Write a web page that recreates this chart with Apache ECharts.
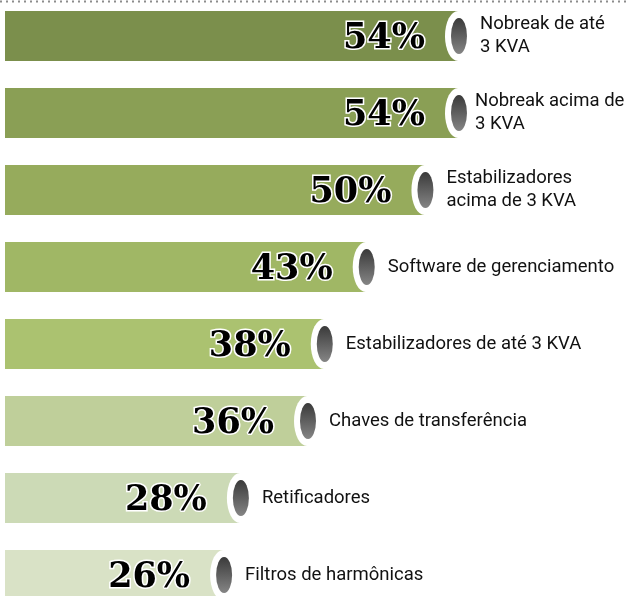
<!DOCTYPE html>
<html>
<head>
<meta charset="utf-8">
<script src="https://cdn.jsdelivr.net/npm/echarts@6/dist/echarts.min.js"></script>
<style>
  html, body { margin: 0; padding: 0; background: #fff; }
  #main { width: 627px; height: 596px; }
</style>
</head>
<body>
<div id="main"></div>
<script>
const categories = [
  "Nobreak de até\n3 KVA",
  "Nobreak acima de\n3 KVA",
  "Estabilizadores\nacima de 3 KVA",
  "Software de gerenciamento",
  "Estabilizadores de até 3 KVA",
  "Chaves de transferência",
  "Retificadores",
  "Filtros de harmônicas",
];
const values = [54, 54, 50, 43, 38, 36, 28, 26];
const barColors = [
  "#7b8f4c", "#8a9f55", "#96ab5c", "#a0b765",
  "#abc270", "#bfcf9a", "#ccdab6", "#d9e2c6",
];

const chart = echarts.init(document.getElementById("main"));

// the long second label sits a bit closer to its cap, as in the print
const capData = values.map((v, i) =>
  i === 1 ? { value: [v, i], label: { distance: 4 } } : [v, i]
);

const option = {
  animation: false,
  grid: { left: 5, top: -2.5, width: 587.2, height: 616, outerBoundsMode: "none" },
  xAxis: {
    type: "value",
    min: 0,
    max: 70,
    show: false,
  },
  yAxis: {
    type: "category",
    data: categories,
    inverse: true,
    show: false,
  },
  graphic: [
    {
      type: "line",
      shape: { x1: 0, y1: 1.5, x2: 627, y2: 1.5 },
      style: { stroke: "#8c8c8c", lineWidth: 2, lineDash: [2, 4] },
      z: 10,
    },
  ],
  series: [
    {
      type: "bar",
      barWidth: 50,
      data: values.map((v, i) => ({ value: v, itemStyle: { color: barColors[i] } })),
      label: {
        show: true,
        position: "insideRight",
        distance: 33,
        offset: [0, 3],
        formatter: "{c}%",
        fontFamily: "DejaVu Serif",
        fontWeight: "bold",
        fontSize: 35,
        color: "#000",
        textBorderColor: "#fff",
        textBorderWidth: 3,
      },
      z: 2,
    },
    {
      // white tube opening at the bar end
      type: "scatter",
      data: capData,
      symbol: "circle",
      symbolSize: [26, 50],
      itemStyle: { color: "#fff", opacity: 1 },
      label: {
        show: true,
        position: "right",
        distance: 9,
        formatter: (p) => categories[p.dataIndex],
        fontFamily: "Roboto",
        fontSize: 18.5,
        lineHeight: 23,
        color: "#111",
      },
      z: 3,
    },
    {
      // dark inner ellipse
      type: "scatter",
      data: capData.map((d) => (Array.isArray(d) ? d : d.value)),
      symbol: "circle",
      symbolSize: [16, 36],
      symbolOffset: [1, 0],
      itemStyle: {
        opacity: 1,
        color: new echarts.graphic.LinearGradient(0, 0, 0, 1, [
          { offset: 0, color: "#3a3a3a" },
          { offset: 1, color: "#858585" },
        ]),
      },
      z: 4,
    },
  ],
};

chart.setOption(option);
</script>
</body>
</html>
